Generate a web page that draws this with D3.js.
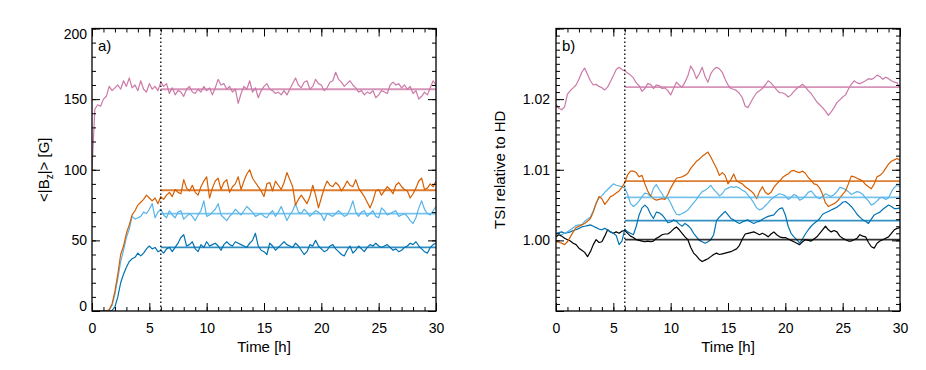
<!DOCTYPE html>
<html>
<head>
<meta charset="utf-8">
<script src="https://cdn.jsdelivr.net/npm/d3@7"></script>
<style>
  body { margin: 0; background: #fff; }
  svg text { font-family: "Liberation Sans", Arial, sans-serif; fill: #000; }
</style>
</head>
<body>
<div id="chart"></div>
<script>
// samples every 0.25 h, 0 .. 30 h (121 values per series)
const hourStep = 0.25;

// panel a) <|Bz|> [G]
const fieldPink = [
  100,143,146,145, 150,152,159,156, 158,160,157,163, 159,165,158,160,
  156,163,157,155, 161,157,159,156, 162,159,161,154, 158,153,156,155,
  152,157,159,155, 154,157,155,159, 156,158,153,158, 164,160,161,157,
  159,155,157,147, 154,159,157,163, 155,158,151,156, 159,161,157,156,
  154,155,153,156, 153,157,161,165, 160,158,162,163, 157,159,164,161,
  160,156,158,162, 163,169,164,162, 159,161,163,160, 158,155,156,153,
  155,154,156,151, 153,156,155,154, 160,162,160,161, 158,160,157,159,
  154,156,150,152, 155,153,158,163, 160
];
const fieldOrange = [
  0,0,0,0, 0,0,1,5, 14,26,40,46, 55,61,68,71,
  75,77,79,82, 80,78,80,76, 81,79,82,84, 81,86,84,83,
  93,87,85,89, 84,82,88,92, 95,80,87,92, 94,86,91,93,
  84,88,90,95, 86,92,97,100, 94,91,88,85, 81,90,91,85,
  92,89,86,91, 98,93,88,75, 79,82,79,76, 81,89,82,73,
  80,87,92,89, 88,91,89,85, 88,92,89,88, 93,87,84,81,
  77,73,78,85, 86,82,85,88, 86,83,89,91, 88,86,85,80,
  83,87,92,94, 86,87,90,88, 92
];
const fieldSky = [
  0,0,0,0, 0,0,0.5,4, 12,23,35,43, 52,58,67,65,
  66,67,70,69, 72,76,66,70, 72,68,66,71, 68,66,70,71,
  65,67,69,67, 64,68,71,78, 67,68,70,72, 76,68,66,64,
  67,69,72,70, 68,71,74,72, 70,67,68,69, 67,66,69,71,
  67,70,74,69, 64,68,71,76, 70,69,72,70, 67,69,71,70,
  68,64,69,68, 67,69,71,69, 67,68,72,78, 70,67,70,71,
  67,69,71,67, 66,73,71,68, 69,70,71,67, 68,69,67,64,
  62,66,73,78, 72,69,68,71, 74
];
const fieldBlue = [
  0,0,0,0, 0,0,0,0.5, 3,10,20,26, 31,35,37,38,
  41,39,41,44, 46,44,45,42, 43,41,44,45, 42,45,48,52,
  54,46,47,49, 44,42,47,45, 49,46,47,48, 46,43,47,49,
  47,46,49,48, 47,46,45,48, 50,55,46,43, 42,40,48,46,
  43,45,47,49, 47,46,45,48, 46,43,40,42, 47,46,50,46,
  44,42,43,46, 47,44,42,40, 39,43,46,41, 43,46,44,42,
  45,47,46,48, 46,45,46,47, 45,43,44,42, 43,45,46,48,
  47,49,46,44, 42,41,45,47, 48
];
const fieldMeans = [157, 85.5, 69, 45];

// panel b) TSI relative to HD, given as excess over 1 in units of 1e-3
const tsiPink = [
  19.3,18.7,18.5,18.9, 20.7,21.2,21.6,22.0, 22.8,23.8,24.4,23.5, 22.6,22.0,22.1,21.8,
  21.6,21.3,21.7,22.5, 23.3,24.2,24.5,24.2, 24.0,23.7,23.4,23.0, 22.3,21.9,21.1,21.5,
  22.2,22.1,21.5,22.0, 21.9,21.5,21.6,21.2, 20.6,21.5,22.4,22.0, 21.7,22.4,23.3,24.7,
  24.0,22.9,23.6,24.5, 23.2,22.4,23.6,24.2, 24.5,24.3,23.8,22.8, 22.0,21.5,21.4,21.2,
  20.8,20.2,19.0,18.8, 19.6,20.3,20.9,21.2, 21.5,22.0,22.6,22.3, 21.8,21.3,20.9,20.9,
  20.7,20.3,20.6,21.1, 21.5,21.8,22.1,21.7, 21.2,20.8,20.2,19.6, 19.2,18.8,18.3,17.7,
  18.2,18.8,19.5,19.9, 20.3,20.6,21.4,22.1, 22.6,22.3,22.2,22.4, 22.6,22.9,22.8,23.0,
  23.4,23.2,22.8,23.1, 22.9,22.6,22.4,22.3, 21.5
];
const tsiOrange = [
  -0.1,-0.3,-0.4,-0.6, -0.2,0.5,1.2,1.8, 2.0,2.2,2.4,2.7, 3.1,4.0,5.2,6.2,
  5.9,5.1,5.6,6.2, 6.4,6.7,7.0,7.5, 8.2,9.3,9.8,9.8, 9.6,9.0,9.2,8.0,
  7.0,6.3,5.9,5.7, 5.8,5.9,5.8,6.5, 7.4,8.1,8.8,8.9, 9.0,9.2,9.5,10.2,
  10.7,11.2,11.5,11.9, 12.2,12.5,11.8,11.0, 10.2,9.2,9.6,9.2, 8.0,8.6,9.4,8.4,
  8.2,8.0,7.6,7.3, 7.0,6.6,5.9,6.9, 7.6,6.8,6.5,6.8, 7.5,8.0,8.4,8.9,
  9.2,9.4,9.8,9.9, 9.7,9.6,9.8,9.5, 8.9,8.5,8.0,7.9, 7.4,6.5,5.3,4.8,
  5.0,5.2,5.5,6.0, 6.5,7.0,8.0,9.1, 9.0,8.8,8.6,8.4, 7.9,7.6,7.3,8.0,
  9.0,9.2,9.6,10.2, 10.8,11.2,11.4,11.6, 11.3
];
const tsiSky = [
  1.0,0.9,0.8,1.0, 1.2,1.5,1.8,2.1, 2.2,2.2,2.7,3.0, 3.3,4.2,5.3,6.0,
  6.3,6.8,7.2,7.6, 8.0,7.8,7.7,7.6, 7.4,6.5,5.2,4.8, 5.1,5.6,6.2,6.7,
  6.6,6.2,7.4,7.9, 7.2,6.6,5.9,6.0, 5.3,4.4,3.7,3.6, 3.8,4.0,4.3,4.8,
  5.3,5.8,6.4,6.9, 7.1,7.4,7.8,7.2, 6.8,6.3,6.6,7.2, 7.4,7.6,7.5,7.6,
  7.4,7.1,6.9,6.4, 5.9,5.3,4.6,4.3, 4.5,4.9,5.3,5.8, 6.1,6.4,6.6,6.5,
  6.3,5.8,6.1,6.5, 6.3,5.7,5.9,6.3, 6.8,7.0,6.5,6.1, 5.9,6.2,6.6,6.4,
  6.2,6.5,6.9,7.5, 7.4,7.2,6.9,6.5, 6.7,6.9,6.8,6.5, 6.0,5.6,5.0,5.2,
  5.6,6.0,6.1,5.8, 6.0,6.9,7.5,7.8, 7.6
];
const tsiBlue = [
  1.0,1.1,1.2,1.0, 1.1,1.2,1.4,1.5, 1.7,1.9,2.0,2.1, 2.2,2.0,1.8,1.6,
  1.5,1.7,1.5,1.2, 1.0,0.7,-0.6,-0.1, 1.6,1.2,1.0,0.8, 2.0,3.6,4.6,5.0,
  4.6,3.7,3.1,4.0, 3.9,3.6,3.1,2.5, 2.6,2.9,2.7,2.3, 2.0,2.4,2.1,1.7,
  1.0,0.5,0.0,-0.2, -0.4,-0.2,0.1,0.8, 2.8,3.3,3.7,4.1, 3.6,3.1,2.9,2.6,
  2.4,2.6,2.8,2.9, 2.6,2.4,2.6,2.7, 3.0,3.2,3.4,3.5, 3.6,4.1,4.5,4.6,
  3.6,2.0,1.0,0.5, 0.1,-0.4,0.2,0.9, 1.5,2.0,2.4,2.7, 3.1,3.7,3.9,4.1,
  4.3,4.5,4.7,5.0, 5.4,5.5,5.2,4.8, 4.3,3.7,3.3,2.9, 2.7,2.4,3.0,3.6,
  3.8,4.0,4.4,4.7, 5.0,4.8,4.5,4.5, 4.6
];
const tsiBlack = [
  0.5,0.8,0.6,0.3, 0.1,-0.1,-0.4,-0.6, -1.1,-1.4,-1.7,-2.3, -1.6,-0.6,0.1,-0.3,
  -0.2,0.6,1.5,1.2, 1.0,1.2,1.0,1.3, 1.4,1.0,0.6,0.4, 0.1,0.0,-0.1,-0.2,
  -0.1,-0.2,-0.1,0.3, 0.5,0.8,0.9,0.9, 1.2,1.6,1.9,1.5, 1.0,0.5,0.1,-1.0,
  -1.8,-2.2,-2.7,-3.0, -2.8,-2.6,-2.3,-2.0, -1.8,-2.0,-1.9,-1.8, -1.7,-1.6,-1.4,-1.2,
  -0.7,0.2,0.9,1.0, 1.1,1.2,1.0,0.8, 1.0,0.8,0.5,0.9, 1.2,0.8,0.5,0.4,
  0.4,0.2,0.0,-0.2, -0.4,-0.6,-0.2,0.1, 0.0,-0.1,0.2,0.5, 1.0,1.5,2.0,1.5,
  1.2,1.4,1.2,0.6, 0.3,0.1,-0.1,-0.1, 0.1,0.3,0.8,0.6, 0.5,-0.3,-0.9,-1.1,
  -0.4,-0.1,0.1,0.3, 0.5,1.0,1.5,1.7, 1.8
];
const tsiMeans = [21.7, 8.4, 6.1, 2.8, 0.1];

const colors = ["#cc79a7", "#d55e00", "#56b4e9", "#0072b2", "#000000"];
const spinUp = 6;     // dotted line, start of averaging
const tMax = 30;

const svg = d3.select("#chart").append("svg")
  .attr("width", 926).attr("height", 370);

function drawPanel(p) {
  const x = d3.scaleLinear().domain([0, tMax]).range([p.left, p.left + 344]);
  const y = d3.scaleLinear().domain(p.yDomain).range([311, 28.5]);
  const g = svg.append("g");
  const [x0, x1] = x.range();
  const [yb, yt] = y.range();

  g.append("clipPath").attr("id", p.id + "clip")
    .append("rect").attr("x", x0).attr("y", yt).attr("width", x1 - x0).attr("height", yb - yt);
  const plot = g.append("g").attr("clip-path", `url(#${p.id}clip)`);

  const line = d3.line()
    .x((d, i) => x(i * hourStep))
    .y(d => y(p.toValue(d)));

  p.series.forEach((s, k) => {
    plot.append("path")
      .attr("d", line(s))
      .attr("fill", "none")
      .attr("stroke", p.colors[k])
      .attr("stroke-width", 1.2)
      .attr("stroke-linejoin", "round");
  });

  p.means.forEach((m, k) => {
    plot.append("line")
      .attr("x1", x(spinUp)).attr("x2", x(tMax))
      .attr("y1", y(p.toValue(m))).attr("y2", y(p.toValue(m)))
      .attr("stroke", p.colors[k])
      .attr("stroke-opacity", 0.8)
      .attr("stroke-width", 1.8);
  });

  g.append("line")
    .attr("x1", x(spinUp)).attr("x2", x(spinUp))
    .attr("y1", yb).attr("y2", yt)
    .attr("stroke", "#000")
    .attr("stroke-width", 1.3)
    .attr("stroke-dasharray", "1.4,2.6");

  // axes, ticks pointing inward on all four sides
  const xMajor = [0, 5, 10, 15, 20, 25, 30];
  const xMinor = d3.range(0, 31, 1);
  const ax = (axis, tr) => {
    const a = g.append("g").attr("transform", tr).call(axis);
    a.select(".domain").remove();
    a.selectAll("line").attr("stroke-width", 1);
    a.selectAll("text").style("font-size", "14px");
    return a;
  };
  ax(d3.axisBottom(x).tickValues(xMinor).tickSize(-4).tickFormat(""), `translate(0,${yb})`);
  ax(d3.axisBottom(x).tickValues(xMajor).tickSize(-8).tickPadding(12).tickFormat(d3.format("d")), `translate(0,${yb})`);
  ax(d3.axisTop(x).tickValues(xMinor).tickSize(-4).tickFormat(""), `translate(0,${yt})`);
  ax(d3.axisTop(x).tickValues(xMajor).tickSize(-8).tickFormat(""), `translate(0,${yt})`);

  ax(d3.axisLeft(y).tickValues(p.yMinor).tickSize(-4).tickFormat(""), `translate(${x0},0)`);
  const yl = ax(d3.axisLeft(y).tickValues(p.yMajor).tickSize(-8).tickPadding(p.yPad).tickFormat(p.yFormat), `translate(${x0},0)`);
  ax(d3.axisRight(y).tickValues(p.yMinor).tickSize(-4).tickFormat(""), `translate(${x1},0)`);
  ax(d3.axisRight(y).tickValues(p.yMajor).tickSize(-8).tickFormat(""), `translate(${x1},0)`);
  yl.selectAll(".tick text")
    .attr("dy", d => d === p.yDomain[0] ? "-0.05em" : d === p.yDomain[1] ? "0.7em" : "0.32em");

  g.append("rect")
    .attr("x", x0).attr("y", yt).attr("width", x1 - x0).attr("height", yb - yt)
    .attr("fill", "none").attr("stroke", "#000").attr("stroke-width", 1.3);

  g.append("text")
    .attr("x", x0 + 6).attr("y", 51)
    .style("font-size", "15px")
    .text(p.tag);

  g.append("text")
    .attr("x", (x0 + x1) / 2).attr("y", 352)
    .attr("text-anchor", "middle")
    .style("font-size", "15px")
    .text("Time [h]");

  const yt2 = g.append("text")
    .attr("transform", `translate(${p.titleX},${(yb + yt) / 2}) rotate(-90)`)
    .attr("text-anchor", "middle")
    .style("font-size", "15px");
  p.yTitle(yt2);
}

drawPanel({
  id: "a",
  left: 92,
  yDomain: [0, 200],
  yMajor: [0, 50, 100, 150, 200],
  yMinor: d3.range(0, 201, 10),
  yFormat: d3.format("d"),
  yPad: 5,
  toValue: d => d,
  series: [fieldPink, fieldSky, fieldBlue, fieldOrange],
  colors: [colors[0], colors[2], colors[3], colors[1]],
  means: [fieldMeans[0], fieldMeans[2], fieldMeans[3], fieldMeans[1]],
  tag: "a)",
  titleX: 49,
  yTitle: t => {
    t.append("tspan").text("<|B");
    t.append("tspan").attr("dy", 4).style("font-size", "10px").text("z");
    t.append("tspan").attr("dy", -4).text("|> [G]");
  }
});

drawPanel({
  id: "b",
  left: 556,
  yDomain: [0.99, 1.03],
  yMajor: [0.99, 1.00, 1.01, 1.02, 1.03],
  yMinor: d3.range(990, 1031, 1).map(v => v / 1000),
  yFormat: d => (d === 0.99 || d === 1.03) ? "" : d3.format(".2f")(d),
  yPad: 6,
  toValue: d => 1 + d / 1000,
  series: [tsiPink, tsiBlack, tsiBlue, tsiSky, tsiOrange],
  colors: [colors[0], colors[4], colors[3], colors[2], colors[1]],
  means: [tsiMeans[0], tsiMeans[4], tsiMeans[3], tsiMeans[2], tsiMeans[1]],
  tag: "b)",
  titleX: 505,
  yTitle: t => t.text("TSI relative to HD")
});
</script>
</body>
</html>
